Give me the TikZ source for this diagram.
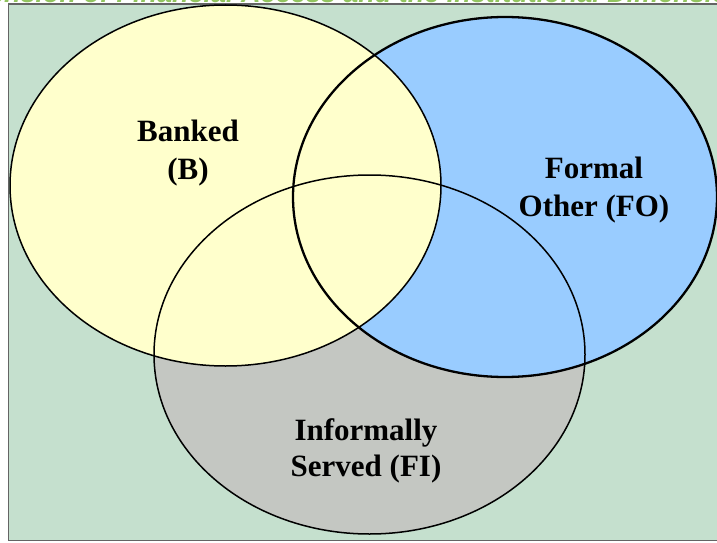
\documentclass[tikz,border=0pt]{standalone}
\usepackage{fontspec}
\setmainfont{Liberation Serif}
\newfontfamily\titlefont{Liberation Sans}
\usepackage{tikz}
\definecolor{bgGreen}{RGB}{197,224,206}
\definecolor{titleGreen}{RGB}{146,196,96}
\definecolor{frameGrey}{RGB}{100,100,100}
\definecolor{bankYellow}{RGB}{255,255,204}
\definecolor{formalBlue}{RGB}{153,204,255}
\definecolor{informalGrey}{RGB}{196,199,194}
\tikzstyle{vennLabel} = [align=center, inner sep=0pt, text=black, font=\fontsize{31}{38}\selectfont\bfseries]
\tikzstyle{thinRim} = [draw=black, line width=1.5pt]
\tikzstyle{thickRim} = [draw=black, line width=2.3pt]

\begin{document}
\begin{tikzpicture}[x=1pt, y=1pt]
        \useasboundingbox (0,0) rectangle (717,542);
        \clip (0,0) rectangle (717,542);
        \fill [white] (0,0) rectangle (717,542);
        \node (title) [anchor=base west, inner sep=0pt, text=titleGreen, font=\titlefont\fontsize{27}{30}\selectfont\bfseries\itshape] at (-62,539.5) {Dimension of Financial Access and the Institutional Dimension};
        \filldraw [fill=bgGreen, draw=frameGrey, line width=1.5pt] (8.5,1.5) rectangle (730,538);
        
        % fills first, rims on top
        \fill [informalGrey] (369.5,187.5) ellipse [x radius=215.5, y radius=179.5];
        \fill [formalBlue] (505,345) ellipse [x radius=212, y radius=180];
        \fill [bankYellow] (225.5,356.5) ellipse [x radius=215.5, y radius=180.5];
        \draw [thinRim] (369.5,187.5) ellipse [x radius=215.5, y radius=179.5];
        \draw [thinRim] (225.5,356.5) ellipse [x radius=215.5, y radius=180.5];
        \draw [thickRim] (505,345) ellipse [x radius=212, y radius=180];
        
        \node (banked) [vennLabel] at (188,388.5) {Banked\\(B)};
        \node (formal) [vennLabel] at (594,352) {Formal\\Other (FO)};
        \node (informal) [vennLabel, font=\fontsize{31}{36.5}\selectfont\bfseries] at (366,91) {Informally\\Served (FI)};
        
    \end{tikzpicture}
\end{document}
